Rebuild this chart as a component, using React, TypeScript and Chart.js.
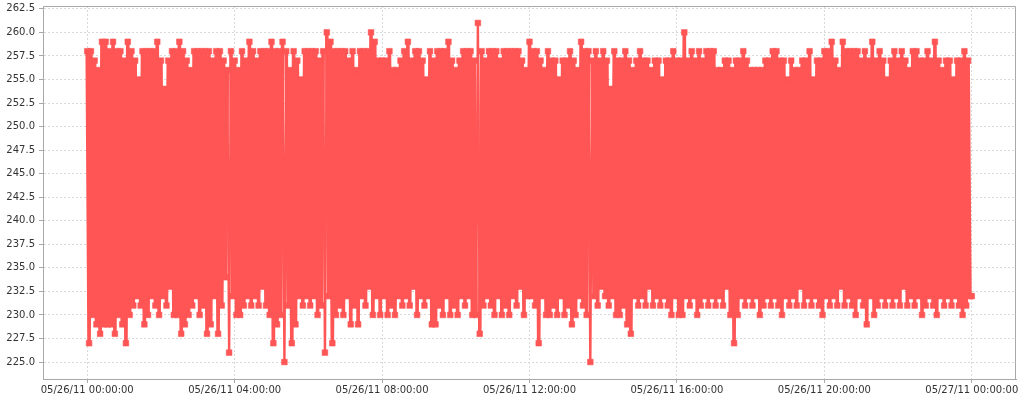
import React, { useEffect, useRef } from "react";
import { Chart, registerables } from "chart.js";

Chart.register(...registerables);

// one reading every 3 minutes, 05/26/11 00:00 -> 05/27/11 00:00
const sampleMinutes = 3;

// 00:00 - 04:00
const block00 = [
  258, 227, 258, 230, 257, 229, 256, 228, 259, 229,
  259, 229, 258, 229, 259, 228, 258, 230, 258, 229,
  257, 227, 259, 230, 258, 231, 257, 232, 255, 231,
  258, 229, 258, 230, 258, 232, 258, 231, 259, 230,
  257, 232, 254, 231, 257, 233, 258, 230, 258, 230,
  259, 228, 258, 229, 257, 230, 256, 231, 258, 232,
  258, 230, 258, 231, 258, 228, 258, 229, 257, 232,
  258, 228, 258, 231, 257, 234, 256, 226, 258, 232,
];

// 04:00 - 08:00
const block04 = [
  257, 230, 256, 230, 258, 231, 257, 232, 259, 231,
  258, 232, 257, 231, 258, 233, 258, 231, 258, 230,
  259, 227, 258, 229, 258, 230, 259, 225, 258, 231,
  256, 227, 258, 229, 257, 232, 255, 231, 258, 232,
  258, 231, 258, 232, 258, 230, 257, 231, 258, 226,
  260, 232, 259, 227, 258, 230, 258, 231, 258, 230,
  258, 232, 257, 229, 258, 231, 256, 229, 258, 232,
  258, 231, 258, 233, 260, 230, 259, 232, 257, 230,
];

// 08:00 - 12:00
const block08 = [
  257, 232, 257, 230, 258, 231, 256, 230, 256, 232,
  257, 231, 258, 232, 259, 231, 257, 233, 258, 230,
  258, 232, 257, 231, 255, 232, 258, 229, 257, 229,
  258, 231, 258, 230, 258, 232, 259, 230, 257, 231,
  256, 230, 257, 232, 258, 231, 258, 232, 258, 230,
  257, 230, 261, 228, 258, 231, 257, 232, 258, 231,
  258, 230, 258, 232, 257, 230, 258, 231, 258, 230,
  258, 232, 258, 231, 258, 233, 257, 230, 256, 232,
];

// 12:00 - 16:00
const block12 = [
  259, 232, 258, 231, 258, 227, 257, 232, 256, 230,
  258, 230, 257, 231, 257, 230, 255, 232, 257, 230,
  257, 231, 258, 229, 257, 230, 256, 232, 259, 231,
  258, 230, 258, 225, 257, 232, 258, 231, 257, 233,
  258, 232, 257, 231, 254, 232, 258, 230, 257, 230,
  257, 231, 258, 229, 257, 228, 256, 232, 257, 231,
  258, 232, 257, 231, 257, 233, 256, 231, 257, 232,
  257, 231, 255, 232, 257, 231, 257, 230, 258, 232,
];

// 16:00 - 20:00
const block16 = [
  257, 230, 257, 230, 260, 232, 257, 231, 258, 232,
  257, 230, 258, 231, 257, 232, 258, 231, 258, 232,
  258, 231, 256, 232, 256, 231, 257, 233, 257, 230,
  256, 227, 257, 230, 257, 232, 258, 231, 257, 232,
  256, 231, 256, 232, 256, 230, 256, 231, 257, 232,
  257, 231, 258, 232, 258, 231, 257, 230, 257, 232,
  255, 231, 257, 232, 256, 231, 256, 233, 257, 231,
  257, 232, 258, 231, 255, 232, 257, 231, 257, 230,
];

// 20:00 - 00:00 (last reading at midnight)
const block20 = [
  258, 232, 258, 231, 259, 232, 257, 231, 256, 233,
  259, 231, 258, 232, 258, 231, 258, 230, 258, 232,
  257, 231, 258, 229, 257, 232, 259, 230, 257, 231,
  258, 232, 257, 231, 255, 232, 257, 231, 258, 232,
  257, 231, 258, 233, 257, 231, 256, 232, 258, 231,
  258, 232, 257, 230, 257, 231, 258, 232, 257, 231,
  259, 230, 257, 232, 256, 231, 257, 232, 257, 231,
  255, 232, 257, 231, 257, 230, 258, 231, 257, 232,
  232,
];

const xTickHours = [0, 4, 8, 12, 16, 20, 24];
const xTickLabels = [
  "05/26/11 00:00:00",
  "05/26/11 04:00:00",
  "05/26/11 08:00:00",
  "05/26/11 12:00:00",
  "05/26/11 16:00:00",
  "05/26/11 20:00:00",
  "05/27/11 00:00:00",
];
const yTicks = [
  225, 227.5, 230, 232.5, 235, 237.5, 240, 242.5, 245, 247.5, 250, 252.5,
  255, 257.5, 260, 262.5,
];

const App: React.FC = () => {
  const chartRef = useRef<HTMLCanvasElement | null>(null);

  useEffect(() => {
    if (!chartRef.current) return;

    const values = [...block00, ...block04, ...block08, ...block12, ...block16, ...block20];
    const points = values.map((v, i) => ({ x: (i * sampleMinutes) / 60, y: v }));

    const red = "#ff5555";
    const frameColor = "#a8a8a8";
    const gridColor = "#d9d9d9";
    const textColor = "#333";

    // top and right edges of the plot box
    const frame = {
      id: "frame",
      afterDraw(chart: Chart) {
        const { ctx, chartArea } = chart;
        const top = Math.round(chartArea.top) + 0.5;
        const right = Math.round(chartArea.right) - 0.5;
        ctx.save();
        ctx.strokeStyle = frameColor;
        ctx.lineWidth = 1;
        ctx.beginPath();
        ctx.moveTo(chartArea.left, top);
        ctx.lineTo(right, top);
        ctx.lineTo(right, chartArea.bottom);
        ctx.stroke();
        ctx.restore();
      },
    };

    Chart.defaults.font.family = "'DejaVu Sans', sans-serif";
    Chart.defaults.font.size = 10;

    // lighter strokes for the longest lone spikes, heavier ones inside the band
    const spikeWidth = (ctx: any) => {
      const far = (v: number) => v <= 226 || v >= 261;
      return far(ctx.p0.parsed.y) || far(ctx.p1.parsed.y) ? 2.4 : 3.6;
    };

    const chart = new Chart(chartRef.current, {
      type: "line",
      data: {
        datasets: [
          {
            label: "value",
            data: points,
            borderColor: red,
            borderWidth: 3.6,
            segment: { borderWidth: spikeWidth },
            pointStyle: "rect",
            pointRadius: 4,
            pointBorderWidth: 1,
            pointBackgroundColor: red,
            pointBorderColor: "rgba(255, 85, 85, 0.55)",
            tension: 0,
            fill: false,
          },
        ],
      },
      options: {
        animation: false,
        responsive: true,
        maintainAspectRatio: false,
        layout: { padding: { top: 6, right: 8, left: 0, bottom: 0 } },
        plugins: {
          legend: { display: false },
          tooltip: { enabled: false },
        },
        scales: {
          x: {
            type: "linear",
            min: -1.2,
            max: 25.2,
            afterBuildTicks: (scale) => {
              scale.ticks = xTickHours.map((v) => ({ value: v }));
            },
            afterFit: (scale) => {
              scale.height = 21;
              scale.paddingLeft = 0;
              scale.paddingRight = 0;
            },
            grid: {
              color: gridColor,
              tickColor: frameColor,
              tickLength: 4,
            },
            border: { color: frameColor, width: 1, dash: [2, 2] },
            ticks: {
              color: textColor,
              autoSkip: false,
              maxRotation: 0,
              padding: 1,
              callback: (value) => {
                const k = xTickHours.indexOf(Number(value));
                return k >= 0 ? xTickLabels[k] : "";
              },
            },
          },
          y: {
            type: "linear",
            min: 223.2,
            max: 262.8,
            afterBuildTicks: (scale) => {
              scale.ticks = yTicks.map((v) => ({ value: v }));
            },
            afterFit: (scale) => {
              scale.width = 43;
              scale.paddingTop = 0;
              scale.paddingBottom = 0;
            },
            grid: {
              color: gridColor,
              tickColor: frameColor,
              tickLength: 4,
            },
            border: { color: frameColor, width: 1, dash: [2, 2] },
            ticks: {
              color: textColor,
              padding: 4,
              callback: (value) => Number(value).toFixed(1),
            },
          },
        },
      },
      plugins: [frame],
    });

    return () => {
      chart.destroy();
    };
  }, []);

  return (
    <div style={{ position: "absolute", left: 0, top: 0, width: 1024, height: 400, background: "#fff" }}>
      <canvas ref={chartRef} />
    </div>
  );
};

export default App;
